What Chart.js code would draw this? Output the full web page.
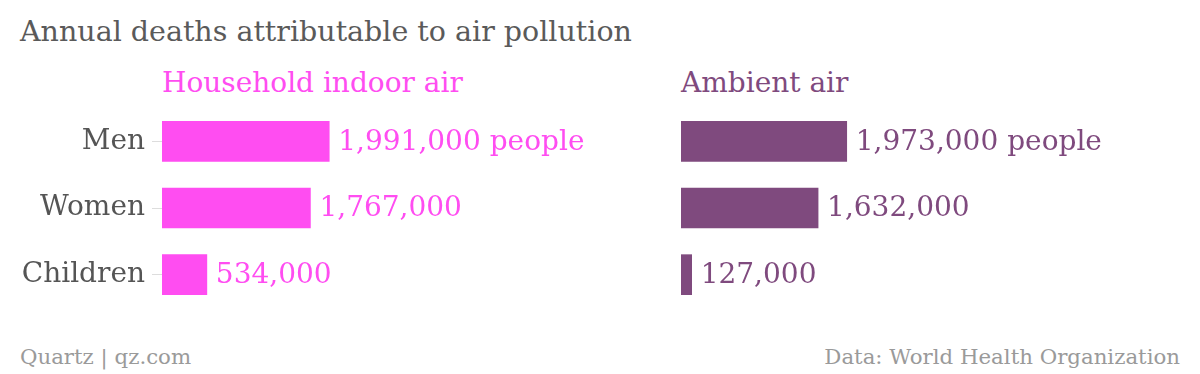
<!DOCTYPE html>
<html>
<head>
<meta charset="utf-8">
<script src="https://cdn.jsdelivr.net/npm/chart.js@4/dist/chart.umd.min.js"></script>
<style>
  body { margin: 0; background: #fff; width: 1200px; height: 374px; position: relative; overflow: hidden; font-family: 'DejaVu Serif', serif; }
  .txt { position: absolute; white-space: nowrap; line-height: 1; }
  #title { left: 20px; top: 18px; font-size: 28.5px; color: #5a5a5a; }
  #indoor-title { left: 162px; top: 69px; font-size: 28px; color: #ff4df1; }
  #ambient-title { left: 681px; top: 69px; font-size: 28px; color: #7f4a7e; }
  #credit { left: 20px; top: 346px; font-size: 21.3px; color: #9a9a9a; }
  #source { right: 20px; top: 346px; font-size: 21.3px; color: #9a9a9a; }
  canvas { position: absolute; }
  #indoor { left: 0; top: 104px; }
  #ambient { left: 665px; top: 104px; }
</style>
</head>
<body>
<div class="txt" id="title">Annual deaths attributable to air pollution</div>
<div class="txt" id="indoor-title">Household indoor air</div>
<div class="txt" id="ambient-title">Ambient air</div>
<canvas id="indoor" width="620" height="208"></canvas>
<canvas id="ambient" width="535" height="208"></canvas>
<div class="txt" id="credit">Quartz | qz.com</div>
<div class="txt" id="source">Data: World Health Organization</div>
<script>
// data
const categories = ['Men', 'Women', 'Children']
const indoorDeaths = [1991000, 1767000, 534000]
const ambientDeaths = [1973000, 1632000, 127000]
const axisMax = 5000000

// colours
const pink = '#ff4df1'
const purple = '#7f4a7e'
const labelFont = { family: "'DejaVu Serif', serif", size: 28 }

// write the value next to each bar, "people" only on the first one
const valueLabels = {
  id: 'valueLabels',
  afterDatasetsDraw (chart) {
    const ctx = chart.ctx
    const ds = chart.data.datasets[0]
    ctx.save()
    ctx.font = `${labelFont.size}px ${labelFont.family}`
    ctx.fillStyle = ds.backgroundColor
    ctx.textBaseline = 'middle'
    chart.getDatasetMeta(0).data.forEach((bar, i) => {
      const text = ds.data[i].toLocaleString('en-US') + (i === 0 ? ' people' : '')
      ctx.fillText(text, bar.x + 9, bar.y + 1)
    })
    ctx.restore()
  }
}

// one horizontal bar chart per panel
const makeChart = (canvas, values, colour, showLabels, padding) => {
  return new Chart(canvas, {
    type: 'bar',
    data: {
      labels: categories,
      datasets: [{ data: values, backgroundColor: colour, borderWidth: 0, barThickness: 40 }]
    },
    options: {
      indexAxis: 'y',
      responsive: false,
      animation: false,
      devicePixelRatio: 1,
      layout: { padding },
      plugins: { legend: { display: false }, tooltip: { enabled: false } },
      scales: {
        x: { display: false, min: 0, max: axisMax },
        y: {
          display: showLabels,
          border: { display: false },
          grid: { drawOnChartArea: false, drawTicks: true, tickLength: 10, color: '#dddddd', offset: false },
          ticks: { font: labelFont, color: '#555555', padding: 7 },
          afterFit: (scale) => {
            // fixed label column, and no extra room above/below for the labels
            scale.width = showLabels ? 162 : 0
            scale.paddingTop = 0
            scale.paddingBottom = 0
          }
        }
      }
    },
    plugins: [valueLabels]
  })
}

makeChart(document.getElementById('indoor'), indoorDeaths, pink, true, { top: 4, bottom: 4, left: 0, right: 38 })
makeChart(document.getElementById('ambient'), ambientDeaths, purple, false, { top: 4, bottom: 4, left: 16, right: 99 })
</script>
</body>
</html>
